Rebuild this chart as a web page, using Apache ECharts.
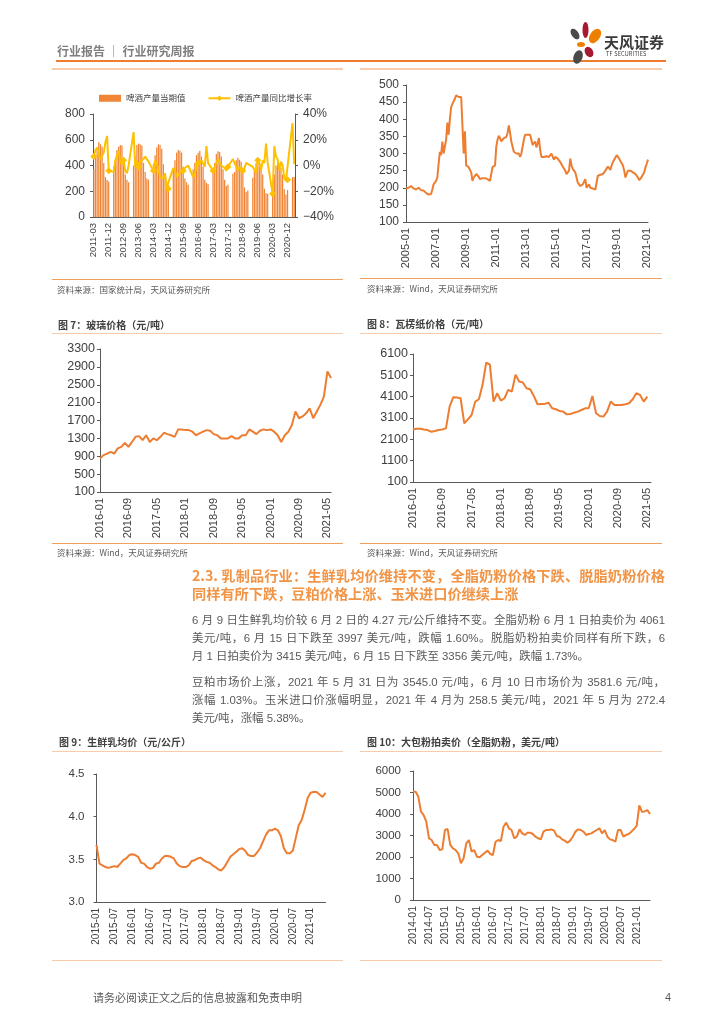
<!DOCTYPE html>
<html><head><meta charset="utf-8">
<script src="https://cdn.jsdelivr.net/npm/echarts@6/dist/echarts.min.js"></script>
<style>
body{margin:0;width:724px;height:1024px;position:relative;background:#fff;overflow:hidden;font-family:"Noto Sans CJK SC",sans-serif;}
#chart{position:absolute;left:0;top:0;width:724px;height:1024px;}
.t{position:absolute;white-space:nowrap;line-height:1;}
.ln{position:absolute;height:0;}
.src{position:absolute;font-size:8.5px;color:#595959;white-space:nowrap;line-height:1;}
.ttl{position:absolute;font-size:10px;font-weight:bold;color:#404040;white-space:nowrap;line-height:1;}
.p{position:absolute;left:192px;width:473px;font-family:"Liberation Sans","Noto Sans CJK SC",sans-serif;font-size:11.4px;color:#595959;line-height:18px;height:18px;white-space:nowrap;}
.j{text-align:justify;text-align-last:justify;}
.h{position:absolute;left:192px;width:473px;font-family:"Noto Sans CJK SC",sans-serif;font-weight:bold;font-size:14.2px;color:#F29446;line-height:18px;height:18px;white-space:nowrap;}
</style></head><body>
<div id="chart"></div>

<!-- header -->
<div class="t" style="left:57px;top:45px;font-size:12px;font-weight:bold;color:#7f7f7f;">行业报告 ｜ 行业研究周报</div>
<div class="ln" style="left:56px;top:60px;width:610px;border-top:2px solid #ED7D31;"></div>
<svg style="position:absolute;left:566px;top:20px;" width="40" height="46" viewBox="0 0 40 46">
  <ellipse cx="9" cy="14" rx="3.5" ry="6" transform="rotate(-35 9 14)" fill="#4a4a4a"/>
  <ellipse cx="19.5" cy="10" rx="3" ry="8" fill="#A6192E"/>
  <ellipse cx="29" cy="16" rx="5" ry="8" transform="rotate(35 29 16)" fill="#EE7F00"/>
  <ellipse cx="15" cy="24.5" rx="4" ry="2.5" fill="#EE7F00"/>
  <ellipse cx="23" cy="32" rx="4" ry="5.5" transform="rotate(-30 23 32)" fill="#A6192E"/>
  <ellipse cx="12" cy="37" rx="4.5" ry="7" transform="rotate(20 12 37)" fill="#4a4a4a"/>
</svg>
<div class="t" style="left:604px;top:34px;font-size:15px;font-weight:bold;color:#3a3a3a;">天风证券</div>
<div class="t" style="left:606px;top:52px;font-size:5.5px;color:#3a3a3a;letter-spacing:0.2px;">TF SECURITIES</div>
<div class="ln" style="left:52px;top:68px;width:291px;border-top:2px solid #F8CBAD;"></div>
<div class="ln" style="left:360px;top:68px;width:302px;border-top:2px solid #F8CBAD;"></div>

<!-- top sources -->
<div class="ln" style="left:52px;top:279px;width:291px;border-top:1.5px solid #F2A05E;"></div>
<div class="ln" style="left:360px;top:278px;width:302px;border-top:1.5px solid #F2A05E;"></div>
<div class="src" style="left:57px;top:285px;">资料来源：国家统计局，天风证券研究所</div>
<div class="src" style="left:367px;top:284px;">资料来源：Wind，天风证券研究所</div>

<!-- middle titles -->
<div class="ttl" style="left:58px;top:320px;">图 7：玻璃价格（元/吨）</div>
<div class="ttl" style="left:367px;top:319px;">图 8：瓦楞纸价格（元/吨）</div>
<div class="ln" style="left:52px;top:333px;width:291px;border-top:1.5px solid #F8CBAD;"></div>
<div class="ln" style="left:360px;top:333px;width:302px;border-top:1.5px solid #F8CBAD;"></div>
<div class="ln" style="left:52px;top:543px;width:291px;border-top:1.5px solid #F2A05E;"></div>
<div class="ln" style="left:360px;top:543px;width:302px;border-top:1.5px solid #F2A05E;"></div>
<div class="src" style="left:57px;top:548px;">资料来源：Wind，天风证券研究所</div>
<div class="src" style="left:367px;top:548px;">资料来源：Wind，天风证券研究所</div>

<!-- text section -->
<div class="h j" style="top:566px;">2.3. 乳制品行业：生鲜乳均价维持不变，全脂奶粉价格下跌、脱脂奶粉价格</div>
<div class="h" style="top:584px;">同样有所下跌，豆粕价格上涨、玉米进口价继续上涨</div>
<div class="p j" style="top:611px;">6 月 9 日生鲜乳均价较 6 月 2 日的 4.27 元/公斤维持不变。全脂奶粉 6 月 1 日拍卖价为 4061</div>
<div class="p j" style="top:629px;">美元/吨，6 月 15 日下跌至 3997 美元/吨，跌幅 1.60%。脱脂奶粉拍卖价同样有所下跌，6</div>
<div class="p" style="top:647px;">月 1 日拍卖价为 3415 美元/吨，6 月 15 日下跌至 3356 美元/吨，跌幅 1.73%。</div>
<div class="p j" style="top:673px;">豆粕市场价上涨，2021 年 5 月 31 日为 3545.0 元/吨，6 月 10 日市场价为 3581.6 元/吨，</div>
<div class="p j" style="top:691px;">涨幅 1.03%。玉米进口价涨幅明显，2021 年 4 月为 258.5 美元/吨，2021 年 5 月为 272.4</div>
<div class="p" style="top:709px;">美元/吨，涨幅 5.38%。</div>

<!-- bottom titles -->
<div class="ttl" style="left:59px;top:737px;">图 9：生鲜乳均价（元/公斤）</div>
<div class="ttl" style="left:367px;top:737px;">图 10：大包粉拍卖价（全脂奶粉，美元/吨）</div>
<div class="ln" style="left:52px;top:751px;width:291px;border-top:1.5px solid #F8CBAD;"></div>
<div class="ln" style="left:360px;top:751px;width:302px;border-top:1.5px solid #F8CBAD;"></div>
<div class="ln" style="left:52px;top:960px;width:291px;border-top:1.5px solid #F8CBAD;"></div>
<div class="ln" style="left:360px;top:960px;width:302px;border-top:1.5px solid #F8CBAD;"></div>

<!-- footer -->
<div class="t" style="left:93px;top:992px;font-size:11px;color:#595959;">请务必阅读正文之后的信息披露和免责申明</div>
<div class="t" style="left:665px;top:992px;font-family:'Liberation Sans';font-size:11px;color:#595959;">4</div>

<script>
// ---------- DATA ----------
// Beer output (monthly, 2011-03 .. 2021-04), Jan/Feb not published
const beerOutput = [
  372,460,530,580,565,545,420,310,290,275,
  null,null,390,440,520,545,560,555,410,330,290,270,
  null,null,400,470,560,570,565,555,420,350,300,290,
  null,null,410,480,540,565,560,530,410,320,270,250,
  null,null,380,440,500,520,515,500,390,300,270,250,
  null,null,370,420,480,500,515,470,390,290,265,255,
  null,null,350,420,490,510,505,470,370,290,240,250,
  null,null,335,350,440,460,445,430,340,230,195,205,
  null,null,305,360,420,440,445,400,330,220,185,180,
  null,null,240,330,400,420,410,385,330,215,175,210,
  null,null,310,310
];
const beerGrowth = [
  7,12,14,9,5,4,10,18,23,-4,
  null,null,-5,4,8,11,3,1,4,-4,-6,0,
  null,null,26,-1,4,-1,3,4,5,7,8,3,
  null,null,-4,4,3,-2,-9,-8,-10,-6,-17,-18,
  null,null,-2,-4,-9,-10,-6,-5,-4,-2,-1,0,
  null,null,-9,-6,-1,2,3,4,3,-1,15,2,
  null,null,-4,-1,2,5,4,0,-1,-2,-4,-1,
  null,null,5,4,-1,-4,-1,0,-4,-2,2,3,
  null,null,-1,-2,-6,4,2,-4,4,2,17,2,
  null,null,-22,15,7,5,-4,3,0,-9,-12,-11,
  null,null,33,1
];
// Top-right price series (monthly, 2005-01 .. 2021-02)
const priceTR = [
  198,195,200,203,205,200,198,200,195,197,200,195,
  193,195,192,188,185,187,180,183,182,195,210,215,
  220,230,270,305,295,335,300,305,340,390,355,400,
  435,445,450,460,470,465,465,470,465,460,300,365,
  265,262,260,265,245,220,230,235,240,238,232,225,
  225,228,230,228,230,225,228,220,222,260,255,265,
  320,340,352,345,335,338,345,350,348,360,382,360,
  335,320,305,300,300,298,300,290,300,320,340,355,
  355,355,355,355,350,325,330,335,318,330,345,310,
  290,292,290,295,292,293,290,292,300,290,282,290,
  290,285,282,275,270,262,260,250,240,245,250,285,
  265,255,250,245,240,215,210,205,203,210,210,225,
  200,205,210,200,195,198,195,195,200,235,235,238,
  240,240,245,250,255,262,260,252,265,275,282,288,
  295,290,285,278,275,265,250,230,235,250,255,250,
  248,245,245,240,238,230,222,225,232,235,245,260,
  270,282
];
// Glass price (monthly, 2016-01 .. 2021-06)
const glassPrice = [
  850,925,960,1000,960,1075,1110,1200,1110,1220,1335,1350,
  1260,1370,1220,1300,1260,1335,1425,1395,1370,1335,1500,1500,
  1485,1485,1450,1370,1410,1450,1485,1470,1395,1370,1300,1300,
  1300,1350,1300,1300,1370,1370,1500,1450,1395,1470,1500,1485,
  1500,1450,1370,1220,1370,1450,1600,1900,1750,1790,1860,1970,
  1750,1900,2050,2235,2800,2650
];
// Corrugated paper price (monthly, 2016-01 .. 2021-05)
const corrPrice = [
  2565,2600,2600,2565,2535,2455,2490,2535,2565,2615,3635,4075,
  4060,4025,2850,3035,3240,3870,3980,4655,5700,5600,3870,4260,
  3915,4025,4420,4340,5125,4810,4765,4495,4450,4135,3745,3760,
  3760,3820,3555,3510,3430,3400,3270,3290,3350,3400,3475,3555,
  3555,4135,3320,3195,3165,3400,3870,3710,3710,3710,3745,3790,
  3980,4260,4180,3870,4100
];
// Raw milk average price (monthly, 2015-01 .. 2021-06)
const milkPrice = [
  3.67,3.45,3.43,3.41,3.40,3.41,3.42,3.41,3.45,3.49,3.51,3.55,
  3.56,3.55,3.53,3.46,3.45,3.41,3.39,3.40,3.45,3.46,3.51,3.54,
  3.54,3.53,3.51,3.45,3.42,3.41,3.41,3.43,3.48,3.49,3.51,3.52,
  3.49,3.47,3.46,3.43,3.41,3.38,3.37,3.41,3.47,3.53,3.56,3.59,
  3.62,3.63,3.60,3.55,3.54,3.54,3.58,3.63,3.71,3.79,3.84,3.84,
  3.86,3.84,3.77,3.63,3.57,3.57,3.60,3.75,3.90,3.96,4.08,4.22,
  4.28,4.29,4.29,4.26,4.23,4.28
];
// Whole milk powder auction price (monthly, 2014-01 .. 2021-06)
const wmpPrice = [
  5040,5040,4805,4110,3950,3640,2870,2790,2560,2560,2325,2355,
  3255,3300,2560,2400,2325,2170,1705,1940,2635,2790,2250,2325,
  2015,1985,2095,2200,2295,2140,2095,2710,2790,2745,3410,3600,
  3335,3255,2870,2945,3285,3100,3025,3130,3130,3070,2945,2870,
  2820,3180,3255,3255,3285,3225,2975,2945,2820,2760,2665,2760,
  2945,3180,3285,3255,3180,3025,3070,3100,3180,3255,3335,3100,
  3255,2945,2820,2790,2710,3255,3255,2945,3025,3070,3180,3300,
  3450,4400,4100,4120,4180,4000
];
function months(y0, m0, n) {
  const a = [];
  for (let i = 0; i < n; i++) {
    const t = y0 * 12 + (m0 - 1) + i;
    a.push(Math.floor(t / 12) + '-' + String(t % 12 + 1).padStart(2, '0'));
  }
  return a;
}
const beerCats = months(2011, 3, beerOutput.length);
const trCats = months(2005, 1, priceTR.length);
const glassCats = months(2016, 1, 66);
const corrCats = months(2016, 1, 66);
const milkCats = months(2015, 1, milkPrice.length);
const wmpCats = months(2014, 1, wmpPrice.length);

// ---------- CHART ----------
const AX = '#595959', LBL = '#404040', ORANGE = '#ED7D31', FONT = 'Liberation Sans';
const grids = [
  {left: 93, top: 114, width: 202, height: 103},
  {left: 406, top: 85, width: 242, height: 137},
  {left: 100, top: 349, width: 231, height: 143},
  {left: 413, top: 354, width: 238, height: 128},
  {left: 96.5, top: 774, width: 229, height: 128},
  {left: 413, top: 771, width: 237, height: 129}
];
const plain = v => String(v);
function xAx(g, cats, every, fs, gap) {
  return {type: 'category', gridIndex: g, data: cats, boundaryGap: !!gap,
    axisLine: {show: true, lineStyle: {color: AX, width: 1}},
    axisTick: {show: false},
    axisLabel: {interval: every - 1, rotate: 90, fontSize: fs, color: LBL, fontFamily: FONT, margin: 6}};
}
function yAx(g, min, max, step, fs, margin, fmt, extra) {
  return Object.assign({type: 'value', gridIndex: g, min: min, max: max, interval: step,
    axisLine: {show: true, lineStyle: {color: AX, width: 1}},
    axisTick: {show: true, length: 3, lineStyle: {color: AX}},
    splitLine: {show: false},
    axisLabel: {fontSize: fs, color: LBL, fontFamily: FONT, margin: margin, formatter: fmt || plain}}, extra || {});
}
function lineS(xi, yi, data) {
  return {type: 'line', xAxisIndex: xi, yAxisIndex: yi, data: data, symbol: 'none',
    lineStyle: {color: ORANGE, width: 2}, itemStyle: {color: ORANGE}};
}
const chart = echarts.init(document.getElementById('chart'), null, {renderer: 'canvas'});
chart.setOption({
  animation: false,
  grid: grids,
  legend: {left: 94, top: 89, itemWidth: 22, itemHeight: 7, itemGap: 22,
    textStyle: {fontSize: 8.5, color: LBL, fontFamily: 'Noto Sans CJK SC'},
    data: [{name: '啤酒产量当期值', icon: 'rect'}, {name: '啤酒产量同比增长率'}]},
  xAxis: [
    xAx(0, beerCats, 9, 9.5, true),
    xAx(1, trCats, 24, 11, false),
    xAx(2, glassCats, 8, 11, false),
    xAx(3, corrCats, 8, 11, false),
    xAx(4, milkCats, 6, 10, false),
    xAx(5, wmpCats, 6, 10.5, false)
  ],
  yAxis: [
    yAx(0, 0, 800, 200, 12, 8),
    yAx(0, -40, 40, 20, 12, 8, v => (v < 0 ? '\u2212' + Math.abs(v) : v) + '%', {position: 'right'}),
    yAx(1, 100, 500, 50, 12, 7),
    yAx(2, 100, 3300, 400, 12.5, 5),
    yAx(3, 100, 6100, 1000, 12.5, 5),
    yAx(4, 3.0, 4.5, 0.5, 11.5, 12, v => v.toFixed(1)),
    yAx(5, 0, 6000, 1000, 11.5, 12)
  ],
  series: [
    {name: '啤酒产量当期值', type: 'bar', xAxisIndex: 0, yAxisIndex: 0, data: beerOutput,
      barCategoryGap: '25%', itemStyle: {color: '#F08536'}},
    {name: '啤酒产量同比增长率', type: 'line', xAxisIndex: 0, yAxisIndex: 1, data: beerGrowth,
      connectNulls: true, symbol: 'diamond', symbolSize: 7,
      lineStyle: {color: '#FFC000', width: 2}, itemStyle: {color: '#FFC000'}},
    lineS(1, 2, priceTR),
    lineS(2, 3, glassPrice),
    lineS(3, 4, corrPrice),
    lineS(4, 5, milkPrice),
    lineS(5, 6, wmpPrice)
  ]
});
</script>
</body></html>
